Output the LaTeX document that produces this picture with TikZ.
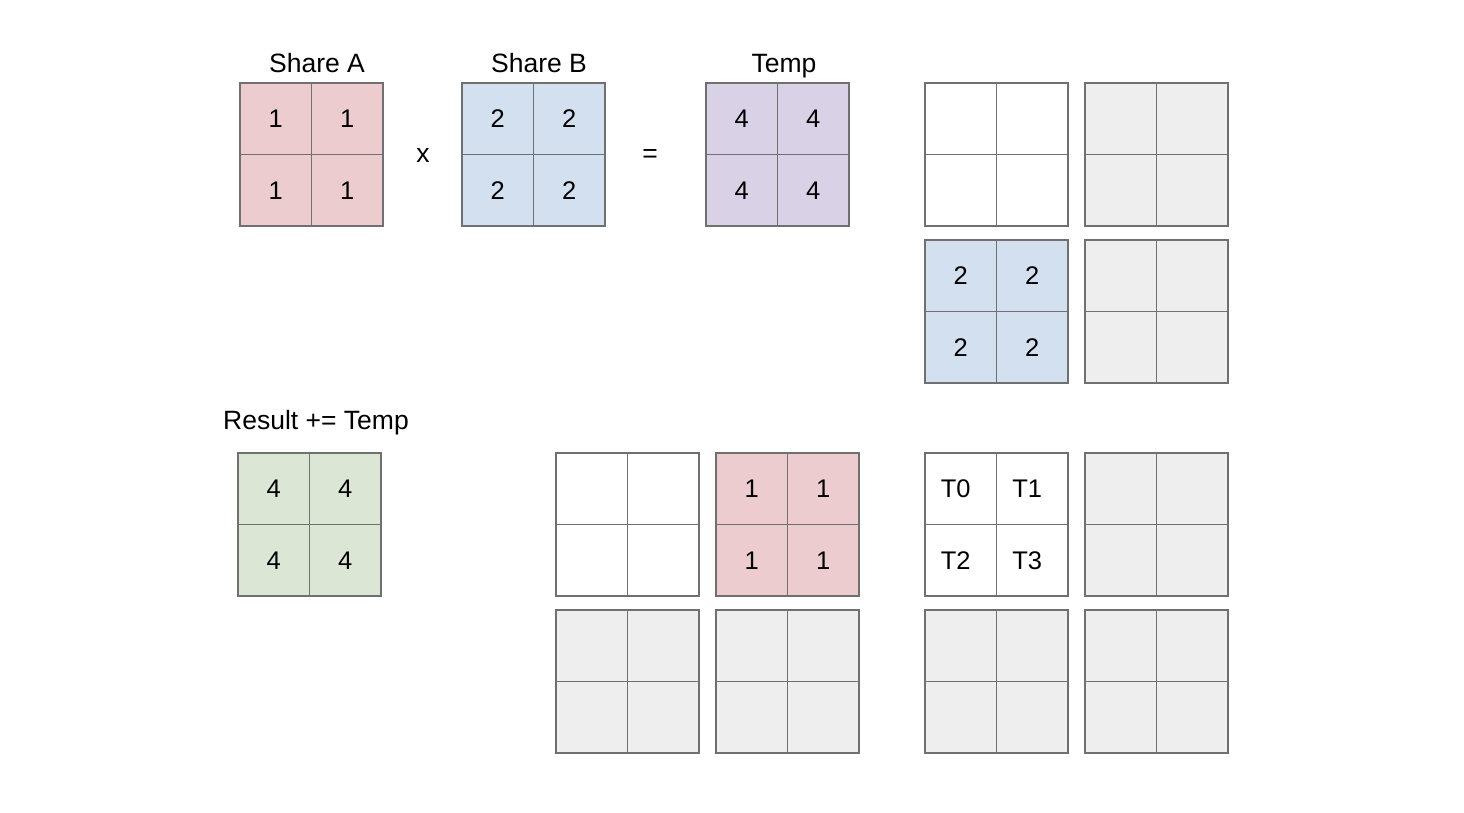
\documentclass[tikz,border=0pt]{standalone}
\usepackage{fontspec}
\setmainfont{Liberation Sans}
\usepackage{xcolor}
\usepackage{tikz}
\usetikzlibrary{positioning}
\definecolor{sharepink}{RGB}{236, 204, 206}
\definecolor{shareblue}{RGB}{211, 224, 239}
\definecolor{temppurple}{RGB}{217, 210, 231}
\definecolor{resultgreen}{RGB}{220, 230, 213}
\definecolor{emptygray}{RGB}{238, 238, 238}
\definecolor{cellborder}{RGB}{112, 112, 112}

\tikzset{
    cell/.style={draw=cellborder, line width=1.1pt, minimum size=71.5pt, inner sep=0pt, outer sep=0pt, font=\fontsize{25.5}{30}\selectfont},
    caption/.style={font=\fontsize{26.5}{31}\selectfont, inner sep=0pt, anchor=base}
}

% 2x2 block: name, left, top, fill, four entries
\newcommand{\blockgrid}[8]{
    \node[cell, fill=#4] (#1-1) at (#2+35.75, #3+35.75) {#5};
    \node[cell, fill=#4] (#1-2) at (#2+107.25, #3+35.75) {#6};
    \node[cell, fill=#4] (#1-3) at (#2+35.75, #3+107.25) {#7};
    \node[cell, fill=#4] (#1-4) at (#2+107.25, #3+107.25) {#8};
}

\begin{document}
\begin{tikzpicture}[x=1pt, y=-1pt]
\useasboundingbox[fill=white] (0,0) rectangle (1464,812);

% Share A x Share B = Temp
\node[caption] (shareAlabel) at (317,72) {Share A};
\node[caption] (shareBlabel) at (539,72) {Share B};
\node[caption] (templabel) at (784,72) {Temp};
\blockgrid{shareA}{240}{83}{sharepink}{1}{1}{1}{1}
\blockgrid{shareB}{462}{83}{shareblue}{2}{2}{2}{2}
\blockgrid{temp}{706}{83}{temppurple}{4}{4}{4}{4}
\node[caption] (times) at (423,162) {x};
\node[caption] (equals) at (650,162) {=};

% Result
\node[caption] (resultlabel) at (316,429) {Result += Temp};
\blockgrid{result}{238}{453}{resultgreen}{4}{4}{4}{4}

% Upper right blocks
\blockgrid{upW}{925}{83}{white}{}{}{}{}
\blockgrid{upG}{1085}{83}{emptygray}{}{}{}{}
\blockgrid{midB}{925}{240}{shareblue}{2}{2}{2}{2}
\blockgrid{midG}{1085}{240}{emptygray}{}{}{}{}

% Lower blocks
\blockgrid{lowW}{556}{453}{white}{}{}{}{}
\blockgrid{lowP}{716}{453}{sharepink}{1}{1}{1}{1}
\blockgrid{threads}{925}{453}{white}{T0\kern10pt}{T1\kern10pt}{T2\kern10pt}{T3\kern10pt}
\blockgrid{lowG}{1085}{453}{emptygray}{}{}{}{}
\foreach \gx/\gn in {556/a, 716/b, 925/c, 1085/d}{
    \blockgrid{bot\gn}{\gx}{610}{emptygray}{}{}{}{}
}
\end{tikzpicture}
\end{document}
